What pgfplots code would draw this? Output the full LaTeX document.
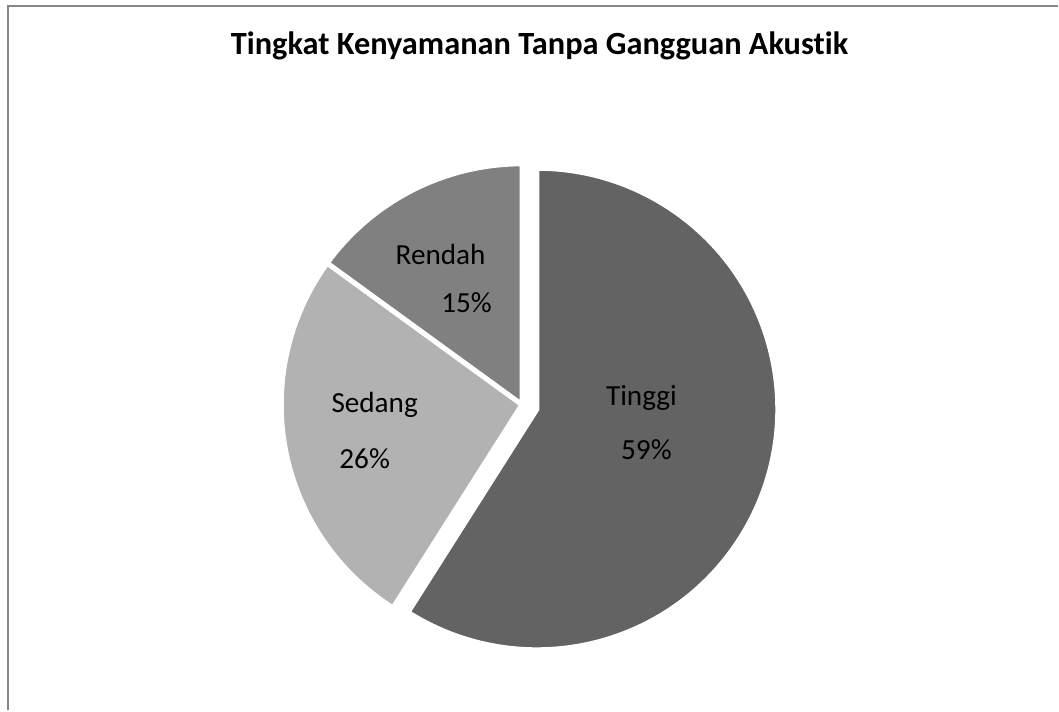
\documentclass[border=0pt]{standalone}
\usepackage{pgfplots}
\pgfplotsset{compat=1.18}
\usepackage{fontspec}
\setmainfont{Carlito}[Ligatures=NoCommon]

% shares in percent
\def\vTinggi{59}
\def\vSedang{26}
\def\vRendah{15}

\definecolor{cTinggi}{RGB}{99,99,99}
\definecolor{cSedang}{RGB}{178,178,178}
\definecolor{cRendah}{RGB}{128,128,128}
\definecolor{frame}{RGB}{136,136,136}

% slice angles (counter-clockwise from 12 o'clock going back)
\pgfmathsetmacro\aR{90}
\pgfmathsetmacro\aRS{90+\vRendah*3.6}
\pgfmathsetmacro\aST{\aRS+\vSedang*3.6}
\pgfmathsetmacro\aT{\aST+\vTinggi*3.6}
\def\R{241}

\begin{document}
\begin{tikzpicture}
\begin{axis}[
    x=1pt, y=1pt,
    xmin=0, xmax=1059, ymin=0, ymax=711,
    hide axis, clip=false,
  ]
  \path (axis cs:0,0) rectangle (axis cs:1059,711);
  % frame (partly cropped)
  \draw[frame, line width=2pt] (axis cs:8.3,0) -- (axis cs:8.3,705) -- (axis cs:1059,705);

  % Tinggi (exploded)
  \fill[cTinggi, draw=white, line width=5pt]
    (axis cs:537.5,301.6) -- (axis cs:{537.5+\R*cos(\aST)},{301.6+\R*sin(\aST)})
    arc[start angle=\aST, end angle=\aT, radius=\R] -- cycle;
  % Sedang
  \fill[cSedang, draw=white, line width=5pt]
    (axis cs:522.5,306) -- (axis cs:{522.5+\R*cos(\aRS)},{306+\R*sin(\aRS)})
    arc[start angle=\aRS, end angle=\aST, radius=\R] -- cycle;
  % Rendah
  \fill[cRendah, draw=white, line width=5pt]
    (axis cs:522.5,306) -- (axis cs:{522.5+\R*cos(\aR)},{306+\R*sin(\aR)})
    arc[start angle=\aR, end angle=\aRS, radius=\R] -- cycle;

  \node[anchor=base, font=\fontsize{32.4}{36}\selectfont\bfseries] at (axis cs:540,656) {Tingkat Kenyamanan Tanpa Gangguan Akustik};

  \begin{scope}[every node/.style={anchor=base, font=\fontsize{29.2}{32}\selectfont}]
    \node at (axis cs:441,446) {Rendah};
    \node at (axis cs:467,398) {\vRendah\%};
    \node at (axis cs:375,298) {Sedang};
    \node at (axis cs:365,242) {\vSedang\%};
    \node at (axis cs:642,305) {Tinggi};
    \node at (axis cs:647,251) {\vTinggi\%};
  \end{scope}
\end{axis}
\end{tikzpicture}
\end{document}
